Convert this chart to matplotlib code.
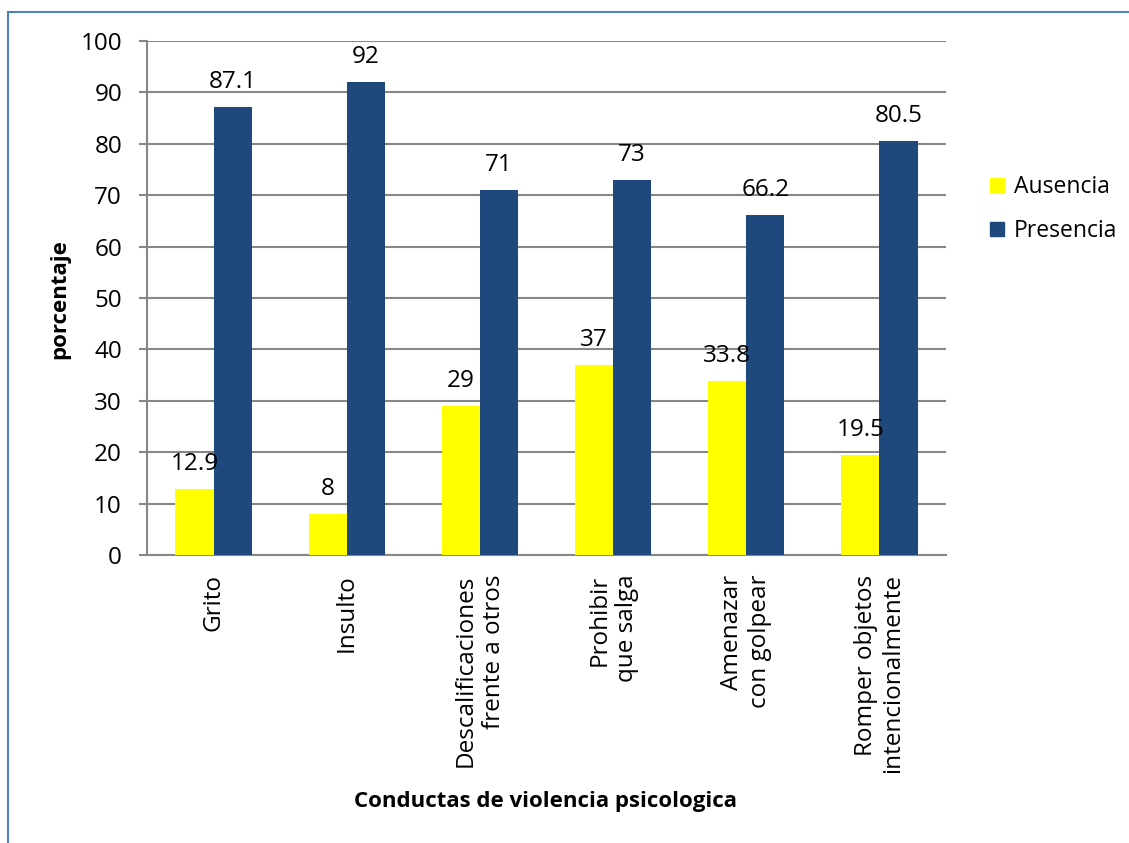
import matplotlib.pyplot as plt
import numpy as np
from matplotlib.lines import Line2D

plt.rcParams['font.family'] = ['Open Sans', 'DejaVu Sans']

categorias = ["Grito", "Insulto", "Descalificaciones\nfrente a otros",
              "Prohibir\nque salga", "Amenazar\ncon golpear",
              "Romper objetos\nintencionalmente"]
ausencia = [12.9, 8, 29, 37, 33.8, 19.5]
presencia = [87.1, 92, 71, 73, 66.2, 80.5]

amarillo = "#FFFF00"
azul = "#1F497D"
gris = "#878787"

fig = plt.figure(figsize=(11.29, 8.43), dpi=100)
ax = fig.add_axes([147/1129, 1 - 555/843, (946 - 147)/1129, (555 - 41)/843])

x = np.arange(len(categorias))
w = 0.286
b1 = ax.bar(x - w/2, ausencia, w, color=amarillo, label="Ausencia", zorder=3)
b2 = ax.bar(x + w/2, presencia, w, color=azul, label="Presencia", zorder=3)

for bars, vals in ((b1, ausencia), (b2, presencia)):
    for r, v in zip(bars, vals):
        ax.annotate(f"{v:g}", (r.get_x() + r.get_width()/2, v),
                    xytext=(0, 13.7), textcoords="offset points",
                    ha="center", va="baseline", fontsize=17.5)

ax.set_xlim(-0.5, len(categorias) - 0.5)
ax.set_ylim(0, 100)
ax.set_yticks(range(0, 101, 10))
ax.yaxis.grid(True, color=gris, linewidth=1.5, zorder=0)
for s in ["top", "right"]:
    ax.spines[s].set_visible(False)
for s in ["left", "bottom"]:
    ax.spines[s].set_color(gris)
    ax.spines[s].set_linewidth(1.5)
ax.tick_params(axis="y", length=6, width=1.5, color=gris, pad=12, labelsize=17.5)
ax.tick_params(axis="x", length=0, pad=14)
ax.set_xticks(x)
ax.set_xticklabels(categorias, rotation=90, fontsize=17.5, va="top", ha="center",
                   multialignment="right")

fig.text(60/1129, 1 - 299/843, "porcentaje", rotation=90,
         fontsize=16, fontweight="bold", ha="center", va="center")
fig.text(546/1129, 1 - 802/843, "Conductas de violencia psicologica",
         fontsize=16, fontweight="bold", ha="center", va="center")

handles = [Line2D([], [], marker="s", linestyle="", markersize=10,
                  color=amarillo, label="Ausencia"),
           Line2D([], [], marker="s", linestyle="", markersize=10,
                  color=azul, label="Presencia")]
fig.legend(handles=handles, loc="center left",
           bbox_to_anchor=(986/1129, 1 - 209/843), frameon=False, borderpad=0,
           borderaxespad=0, fontsize=16.5, handletextpad=0.2, labelspacing=0.9,
           handlelength=1.0)

# marco azul
fig.add_artist(Line2D([8/1129, 8/1129], [0, 1 - 12/843], color="#4F81BD",
                      linewidth=1.5, transform=fig.transFigure))
fig.add_artist(Line2D([8/1129, 1], [1 - 12/843, 1 - 12/843], color="#4F81BD",
                      linewidth=1.5, transform=fig.transFigure))

fig.savefig("out.png", dpi=100)
